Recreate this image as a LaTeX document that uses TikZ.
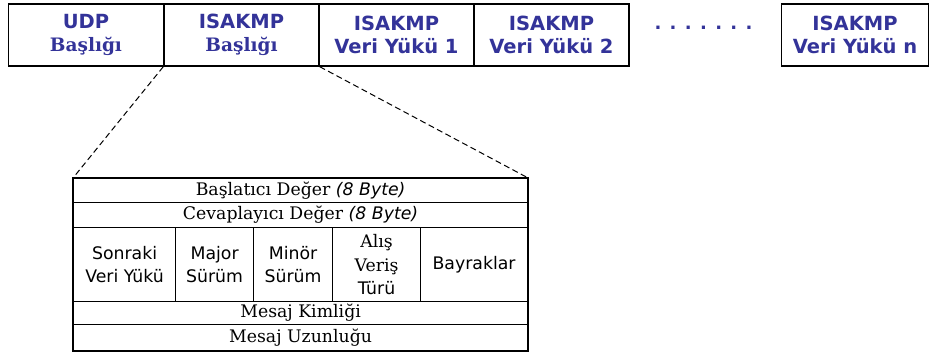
\documentclass[tikz,border=0pt]{standalone}
\usepackage{fontspec}
\setmainfont{DejaVu Serif}
\setsansfont{DejaVu Sans}
\definecolor{hdrblue}{RGB}{51,51,153}
\begin{document}
\begin{tikzpicture}[x=1pt,y=-1pt,
  topbox/.style={draw, line width=1.4pt, minimum width=155pt, minimum height=62pt, inner sep=0pt,
    align=center, text=hdrblue, font=\fontsize{19.5}{23.5}\selectfont\sffamily\bfseries},
  rowcell/.style={draw, line width=1.2pt, anchor=north west, inner sep=0pt, minimum width=454pt,
    font=\fontsize{17.3}{20}\selectfont\rmfamily},
  colcell/.style={draw, line width=1.2pt, anchor=north west, inner sep=0pt, minimum height=74pt,
    align=center, font=\fontsize{17.3}{23.5}\selectfont\sffamily},
  zoomline/.style={dash pattern=on 6pt off 3.5pt, line width=1pt}
]
\useasboundingbox (0,0) rectangle (929,352);
% top row
\node[topbox] (udp) at (86,35) {UDP\\{\rmfamily\fontsize{18.5}{23.5}\selectfont Başlığı}};
\node[topbox] (hdr) at (241.5,35) {ISAKMP\\{\rmfamily\fontsize{18.5}{23.5}\selectfont Başlığı}};
\node[topbox] (p1) at (396.5,35) {ISAKMP\\Veri Yükü 1};
\node[topbox] (p2) at (551.5,35) {ISAKMP\\Veri Yükü 2};
\node[anchor=base, text=hdrblue, font=\fontsize{18}{23}\selectfont\sffamily\bfseries, inner sep=0pt] (dots) at (703.5,30) {. . . . . . .};
\node[topbox, minimum width=146.5pt] (pn) at (855,35) {ISAKMP\\Veri Yükü n};
% lower table
\node[rowcell, minimum height=24pt] (r1) at (73,178) {Başlatıcı Değer {\sffamily\itshape (8 Byte)}};
\node[rowcell, minimum height=25pt] (r2) at (73,202) {Cevaplayıcı Değer {\sffamily\itshape (8 Byte)}};
\node[colcell, minimum width=102pt] (c1) at (73,227) {Sonraki\\Veri Yükü};
\node[colcell, minimum width=78pt] (c2) at (175,227) {Major\\Sürüm};
\node[colcell, minimum width=79pt] (c3) at (253,227) {Minör\\Sürüm};
\node[colcell, minimum width=88pt] (c4) at (332,227) {{\rmfamily Alış}\\{\rmfamily Veriş}\\Türü};
\node[colcell, minimum width=107pt] (c5) at (420,227) {Bayraklar};
\node[rowcell, minimum height=23pt] (r4) at (73,301) {Mesaj Kimliği};
\node[rowcell, minimum height=26pt] (r5) at (73,324) {Mesaj Uzunluğu};
\draw[line width=1.9pt] (r1.north west) rectangle (r5.south east);
% zoom lines
\draw[zoomline] (hdr.south west) -- (r1.north west);
\draw[zoomline] (hdr.south east) -- (r1.north east);
\end{tikzpicture}
\end{document}
